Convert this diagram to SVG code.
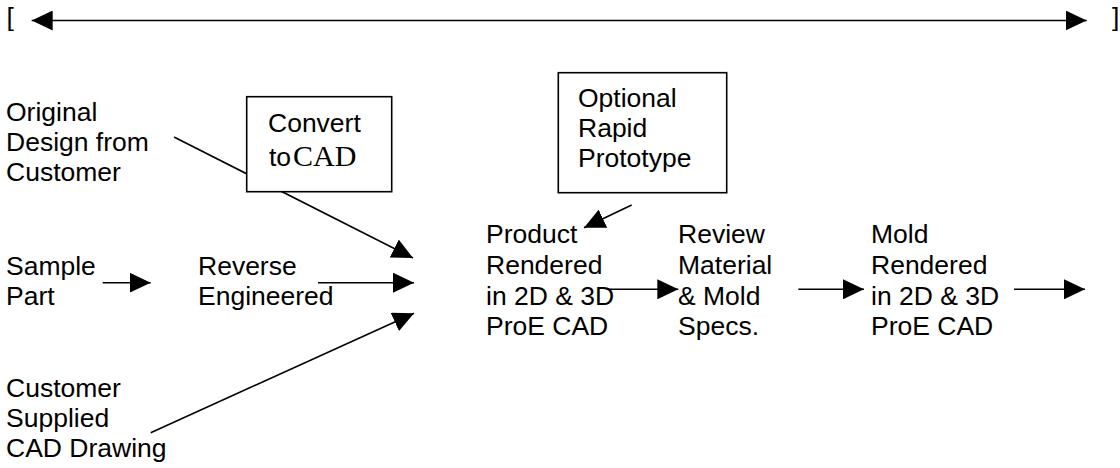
<svg xmlns="http://www.w3.org/2000/svg" width="1120" height="468" viewBox="0 0 1120 468">
<style>
text{font-family:"Liberation Sans",Arial,sans-serif;font-size:26.5px;fill:#000}
text.serif{font-family:"Liberation Serif","Times New Roman",serif;font-size:30px}
.box{fill:#fff;stroke:#000;stroke-width:1.6}
.c{stroke:#000;stroke-width:1.6;fill:none;marker-end:url(#ah)}
</style>
<defs>
<marker id="ah" markerUnits="userSpaceOnUse" markerWidth="22" markerHeight="20" refX="21" refY="10" orient="auto-start-reverse" viewBox="0 0 22 20">
<path d="M0,0 L21,10 L0,20 z" fill="#000"/>
</marker>
</defs>
<rect width="1120" height="468" fill="#fff"/>
<g id="connectors">
<line id="c-top" class="c" x1="31.7" y1="20.5" x2="1086.7" y2="20.5" style="marker-start:url(#ah)"/>
<line id="c-original" class="c" x1="174" y1="137" x2="413" y2="258"/>
<line id="c-sample" class="c" x1="102.7" y1="282.7" x2="150.7" y2="282.7"/>
<line id="c-reverse" class="c" x1="318" y1="282.7" x2="414" y2="282.7"/>
<line id="c-customer" class="c" x1="150.7" y1="432.7" x2="414" y2="313.3"/>
<line id="c-optional" class="c" x1="631.7" y1="205" x2="584" y2="227.7"/>
<line id="c-product" class="c" x1="606.7" y1="289.3" x2="678.3" y2="289.3"/>
<line id="c-review" class="c" x1="798.3" y1="289.3" x2="864" y2="289.3"/>
<line id="c-mold" class="c" x1="1014" y1="289.3" x2="1085" y2="289.3"/>
</g>
<g id="bracket-left"><text x="6.5" y="25.5">[</text></g>
<g id="bracket-right"><text x="1112" y="25.5">]</text></g>
<g id="node-original">
<text x="6" y="120.7">Original</text>
<text x="6" y="151">Design from</text>
<text x="6" y="181.3">Customer</text>
</g>
<g id="node-convert">
<rect class="box" x="246.7" y="96.7" width="145" height="95"/>
<text x="268" y="131.7">Convert</text>
<text x="269" y="166">to</text>
<text class="serif" x="293" y="166">CAD</text>
</g>
<g id="node-sample">
<text x="6" y="274.5">Sample</text>
<text x="6" y="305">Part</text>
</g>
<g id="node-reverse">
<text x="198" y="274.5">Reverse</text>
<text x="198" y="305">Engineered</text>
</g>
<g id="node-customer">
<text x="6" y="396.7">Customer</text>
<text x="6" y="426.7">Supplied</text>
<text x="6" y="456.7">CAD Drawing</text>
</g>
<g id="node-optional">
<rect class="box" x="558.3" y="72.7" width="168.4" height="120"/>
<text x="578" y="107">Optional</text>
<text x="578" y="137">Rapid</text>
<text x="578" y="167">Prototype</text>
</g>
<g id="node-product">
<text x="486" y="243.3">Product</text>
<text x="486" y="274">Rendered</text>
<text x="486" y="304.7">in 2D &amp; 3D</text>
<text x="486" y="335.3">ProE CAD</text>
</g>
<g id="node-review">
<text x="678" y="243.3">Review</text>
<text x="678" y="274">Material</text>
<text x="678" y="304.7">&amp; Mold</text>
<text x="678" y="335.3">Specs.</text>
</g>
<g id="node-mold">
<text x="871" y="243.3">Mold</text>
<text x="871" y="274">Rendered</text>
<text x="871" y="304.7">in 2D &amp; 3D</text>
<text x="871" y="335.3">ProE CAD</text>
</g>
</svg>
